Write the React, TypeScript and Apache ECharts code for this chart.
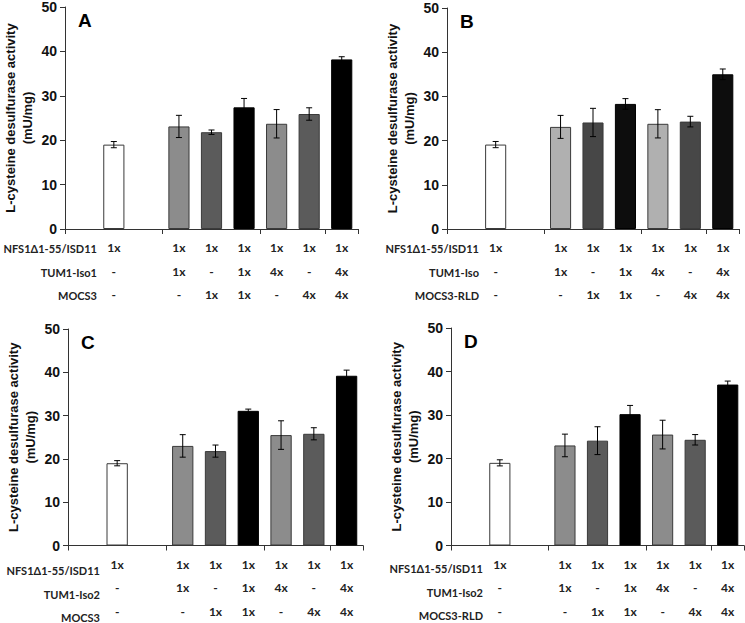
import React, { useEffect, useRef } from "react";
import * as echarts from "echarts";

// slot layout: 9 category slots (3 groups of 3); bars occupy slots below
const slots = ["s0", "s1", "s2", "s3", "s4", "s5", "s6", "s7", "s8"];
const barSlots = [1, 3, 4, 5, 6, 7, 8];

// table rows under each x axis (per slot)
const nfsRow = ["", "1x", "", "1x", "1x", "1x", "1x", "1x", "1x"];
const tumRow = ["", "-", "", "1x", "-", "1x", "4x", "-", "4x"];
const mocsRow = ["", "-", "", "-", "1x", "1x", "-", "4x", "4x"];

// values (mU/mg) and errors
const valuesA = [19.0, 23.1, 21.8, 27.4, 23.7, 25.9, 38.2];
const errorsA = [0.7, 2.5, 0.5, 2.0, 3.2, 1.4, 0.6];
const valuesB = [19.1, 23.1, 24.1, 28.3, 23.8, 24.3, 35.0];
const errorsB = [0.7, 2.6, 3.2, 1.2, 3.2, 1.2, 1.2];
const valuesC = [19.0, 23.0, 21.8, 31.1, 25.5, 25.8, 39.2];
const errorsC = [0.6, 2.6, 1.4, 0.4, 3.3, 1.4, 1.3];
const valuesD = [19.0, 23.0, 24.1, 30.2, 25.5, 24.3, 37.0];
const errorsD = [0.7, 2.6, 3.2, 2.0, 3.3, 1.2, 0.8];

const rowLabelsA = ["NFS1Δ1-55/ISD11", "TUM1-Iso1", "MOCS3"];
const rowLabelsB = ["NFS1Δ1-55/ISD11", "TUM1-Iso", "MOCS3-RLD"];
const rowLabelsC = ["NFS1Δ1-55/ISD11", "TUM1-Iso2", "MOCS3"];
const rowLabelsD = ["NFS1Δ1-55/ISD11", "TUM1-Iso2", "MOCS3-RLD"];

const panelLetters = ["A", "B", "C", "D"];
const yTitle = "L-cysteine desulfurase activity\n(mU/mg)";

const paletteStd = ["#ffffff", "#8c8c8c", "#5b5b5b", "#000000"];
const paletteB = ["#ffffff", "#b0b0b0", "#474747", "#0d0d0d"];

const panels = [
  { values: valuesA, errors: errorsA, rows: rowLabelsA, palette: paletteStd, grid: { left: 65, top: 7, width: 293, height: 222 } },
  { values: valuesB, errors: errorsB, rows: rowLabelsB, palette: paletteB, grid: { left: 447, top: 8, width: 292, height: 221 } },
  { values: valuesC, errors: errorsC, rows: rowLabelsC, palette: paletteStd, grid: { left: 68, top: 329, width: 295, height: 222 } },
  { values: valuesD, errors: errorsD, rows: rowLabelsD, palette: paletteStd, grid: { left: 451, top: 328, width: 293, height: 221 } },
];

function colorForSlot(slot: number, palette: string[]) {
  if (slot === 1) return palette[0];
  return palette[((slot - 3) % 3) + 1];
}

export default function App() {
  const ref = useRef<HTMLDivElement>(null);
  useEffect(() => {
    if (!ref.current) return;
    const chart = echarts.init(ref.current, undefined, { renderer: "svg" });

    const grids: any[] = [];
    const xAxes: any[] = [];
    const yAxes: any[] = [];
    const series: any[] = [];
    const graphics: any[] = [];

    panels.forEach((p, i) => {
      grids.push({ ...p.grid, containLabel: false });
      xAxes.push({
        type: "category",
        gridIndex: i,
        data: slots,
        boundaryGap: true,
        axisLine: { show: true, lineStyle: { color: "#333", width: 1 } },
        axisTick: { show: true, interval: 2, length: 5, lineStyle: { color: "#333" } },
        axisLabel: {
          interval: 0,
          margin: 7,
          formatter: (_v: string, idx: number) =>
            nfsRow[idx] ? `${nfsRow[idx]}\n${tumRow[idx]}\n${mocsRow[idx]}` : "",
          lineHeight: 23.5,
          fontFamily: "Lato",
          fontWeight: "bold",
          fontSize: 12,
          color: "#222",
        },
        splitLine: { show: false },
      });
      yAxes.push({
        type: "value",
        gridIndex: i,
        min: 0,
        max: 50,
        interval: 10,
        axisLine: { show: true, lineStyle: { color: "#333", width: 1 } },
        axisTick: { show: true, length: 5, lineStyle: { color: "#333" } },
        axisLabel: { fontFamily: "Liberation Sans", fontWeight: "bold", fontSize: 14, color: "#111", margin: 8 },
        splitLine: { show: false },
        name: yTitle,
        nameLocation: "middle",
        nameRotate: 90,
        nameGap: 29,
        nameTextStyle: { fontFamily: "Liberation Sans", fontWeight: "bold", fontSize: 13, lineHeight: 17, color: "#111" },
      });

      const barData: any[] = slots.map(() => "-");
      const errData: any[] = [];
      barSlots.forEach((s, k) => {
        const c = colorForSlot(s, p.palette);
        barData[s] = {
          value: p.values[k],
          itemStyle: { color: c, borderColor: c === "#000000" || c === "#0d0d0d" ? "#000" : "#3a3a3a", borderWidth: 1 },
        };
        errData.push([s, p.values[k], p.errors[k]]);
      });

      series.push({
        type: "bar",
        xAxisIndex: i,
        yAxisIndex: i,
        data: barData,
        barWidth: "65%",
        silent: true,
      });
      series.push({
        type: "custom",
        xAxisIndex: i,
        yAxisIndex: i,
        data: errData,
        silent: true,
        z: 5,
        renderItem: (_params: any, api: any) => {
          const x = api.value(0);
          const y = api.value(1);
          const e = api.value(2);
          const top = api.coord([x, y + e]);
          const bot = api.coord([x, y - e]);
          const hw = 3;
          const style = { stroke: "#000", lineWidth: 1 };
          return {
            type: "group",
            children: [
              { type: "line", shape: { x1: top[0], y1: top[1], x2: bot[0], y2: bot[1] }, style },
              { type: "line", shape: { x1: top[0] - hw, y1: top[1], x2: top[0] + hw, y2: top[1] }, style },
              { type: "line", shape: { x1: bot[0] - hw, y1: bot[1], x2: bot[0] + hw, y2: bot[1] }, style },
            ],
          };
        },
      });

      const g = p.grid;
      const axisBottom = g.top + g.height;
      graphics.push({
        type: "text",
        left: g.left + 13,
        top: g.top + 4,
        style: { text: panelLetters[i], font: "bold 19px 'Liberation Sans'", fill: "#000" },
      });
      const rowYs = [axisBottom + 19, axisBottom + 43, axisBottom + 66];
      p.rows.forEach((label, r) => {
        graphics.push({
          type: "text",
          x: g.left + 32,
          y: rowYs[r],
          style: {
            text: label,
            font: "bold 11px Lato",
            fill: "#222",
            align: "right",
            verticalAlign: "middle",
          },
        });
      });
    });

    chart.setOption({
      animation: false,
      backgroundColor: "#ffffff",
      grid: grids,
      xAxis: xAxes,
      yAxis: yAxes,
      series,
      graphic: graphics,
    });
    return () => chart.dispose();
  }, []);
  return <div ref={ref} style={{ width: 745, height: 623, position: "absolute", left: 0, top: 0 }} />;
}
